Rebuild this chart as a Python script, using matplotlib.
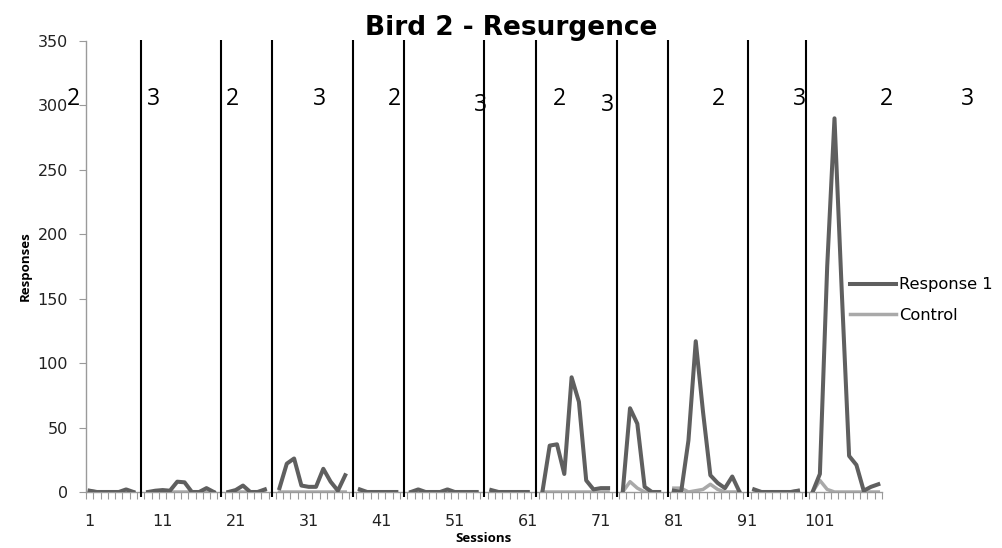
#!/usr/bin/env python3
"""Bird 2 - Resurgence: responses per session with phase change lines"""
import matplotlib
matplotlib.use('Agg')
import matplotlib.pyplot as plt
import numpy as np

nan = np.nan

# Sessions 1..109, nan where the phase changes (gap in the lines)
sessions = list(range(1, 110))
response_1 = [
    1, 0, 0, 0, 0, 2, 0, nan,
    0, 1, 1.5, 1, 8, 7.5, 0, 0, 3, 0, nan,
    0, 1.5, 5, 0, 0, 2, nan,
    3, 22, 26, 5, 4, 4, 18, 8, 1, 13, nan,
    2, 0, 0, 0, 0, 0, nan,
    0, 2, 0, 0, 0, 2, 0, 0, 0, 0, nan,
    1.5, 0, 0, 0, 0, 0, nan,
    0, 36, 37, 14, 89, 70, 9, 2, 3, 3, nan,
    0, 65, 53, 4, 0, 0, nan,
    1, 0, 40, 117, 62, 13, 7, 3, 12, 0, nan,
    2, 0, 0, 0, 0, 0, 1, nan,
    0, 14, 175, 290, 155, 28, 21, 1, 4, 6,
]
control = [
    1, 0, 0, 0, 0, 0, 0, nan,
    0, 0, 0, 0, 0, 0, 0, 0, 0, 0, nan,
    0, 0, 0, 0, 0, 0, nan,
    0, 0, 0, 0, 0, 0, 0, 0, 0, 0, nan,
    0, 0, 0, 0, 0, 0, nan,
    0, 0, 0, 0, 0, 0, 0, 0, 0, 0, nan,
    0, 0, 0, 0, 0, 0, nan,
    0, 0, 0, 0, 0, 0, 0, 0, 0, 0, nan,
    0, 8, 3, 0, 0, 0, nan,
    3, 3, 0, 1, 2, 6, 2, 0, 0, 0, nan,
    0, 0, 0, 0, 0, 0, 1, nan,
    0, 9, 2, 0, 0, 0, 0, 0, 0, 0,
]

# Phase change lines (in session units) and the condition labels
phase_lines = [8.1, 19.0, 26.0, 37.1, 44.0, 55.05, 62.1, 73.2, 80.2, 91.1, 99.05]
phase_labels = ['2', '3', '2', '3', '2', '3', '2', '3', '2', '3', '2', '3']
label_x = [-1.15, 9.7, 20.6, 32.5, 42.8, 54.5, 65.3, 71.9, 87.1, 98.2, 110.1, 121.2]
label_y = [305, 305, 305, 305, 305, 300, 305, 300, 305, 305, 305, 305]

x_ticks = list(range(1, 110, 10))

fig = plt.figure(figsize=(10.02, 5.48), dpi=100)
ax = fig.add_axes([0.0858, 0.1022, 0.7944, 0.8230])

ax.plot(sessions, response_1, color='#5f5f5f', lw=2.9, label='Response 1',
        zorder=3)
ax.plot(sessions, control, color='#a9a9a9', lw=2.5, label='Control',
        zorder=2)

ax.vlines(phase_lines, -4, 351, colors='black', lw=1.5, clip_on=False,
          zorder=4)
for txt, x, y in zip(phase_labels, label_x, label_y):
    ax.text(x, y, txt, fontsize=16.5, ha='center', va='center',
            family='Open Sans')

ax.set_xlim(0.5, 109.5)
ax.set_ylim(0, 350)
ax.set_yticks(range(0, 351, 50))
ax.set_xticks(x_ticks)
ax.set_xticks(np.arange(0.5, 110, 1), minor=True)
ax.tick_params(axis='x', which='major', length=0, pad=16, labelsize=11.5,
               labelcolor='#222222')
ax.tick_params(axis='x', which='minor', length=5, width=0.8, color='#9a9a9a',
               direction='out')
ax.tick_params(axis='y', length=5, width=0.8, color='#9a9a9a', pad=8,
               labelsize=11.5, labelcolor='#222222')

for side in ['top', 'right']:
    ax.spines[side].set_visible(False)
for side in ['left', 'bottom']:
    ax.spines[side].set_color('#9a9a9a')
    ax.spines[side].set_linewidth(1)

ax.set_title('Bird 2 - Resurgence', fontsize=19, fontweight='bold',
             family='DejaVu Sans', x=0.534, pad=-7)
ax.set_xlabel('Sessions', fontsize=9.5, fontweight='bold',
              family='Open Sans', labelpad=2)
ax.set_ylabel('Responses', fontsize=9.5, fontweight='bold',
              family='Open Sans', labelpad=4)

ax.legend(loc='center left', bbox_to_anchor=(0.834, 0.4526),
          bbox_transform=fig.transFigure, frameon=False, fontsize=11.7,
          handlelength=2.8, handletextpad=0.2, labelspacing=0.95)

plt.savefig('out.png', dpi=100)
